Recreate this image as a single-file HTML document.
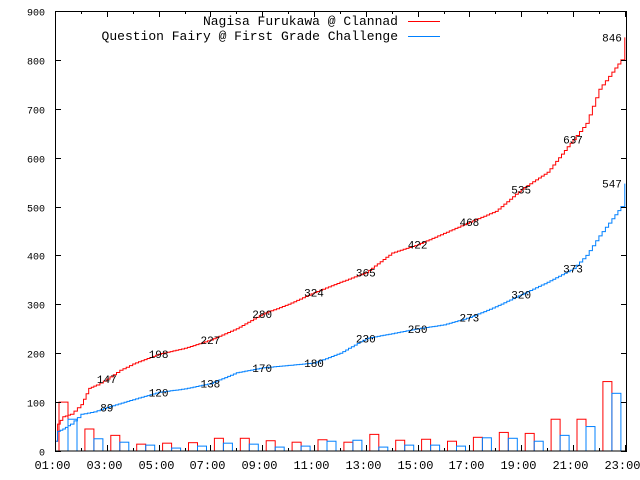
<!DOCTYPE html>
<html><head><meta charset="utf-8"><style>
html,body{margin:0;padding:0;background:#fff;}
svg{display:block;}
text{font-family:"Liberation Mono","DejaVu Sans Mono",monospace;fill:#000;}
</style></head><body>
<svg id="s" width="640" height="480" xmlns="http://www.w3.org/2000/svg"></svg>
<script>
const s=document.getElementById('s');const NS='http://www.w3.org/2000/svg';
function el(t,a,txt){const e=document.createElementNS(NS,t);for(const k in a)e.setAttribute(k,a[k]);if(txt!==undefined)e.textContent=txt;s.appendChild(e);return e;}
const X=h=>55+(h-1)*25.9, Y=v=>451-v*0.4889;
const R=[100,45,32,14,16,17,26,26,21,18,23,18,34,22,24,20,28,38,36,65,65,142];
const B=[65,25,18,12,6,10,16,14,8,10,20,22,8,12,12,10,27,26,20,32,50,118];
for(let i=0;i<22;i++){const x0=X(i+1);
 el('rect',{x:x0+4,y:Y(R[i]),width:9,height:R[i]*0.4889,fill:'none',stroke:'#ff0000','stroke-width':1});
 el('rect',{x:x0+13,y:Y(B[i]),width:9,height:B[i]*0.4889,fill:'none',stroke:'#0080ff','stroke-width':1});}
const rp=[[1,20],[1.1,55],[1.3,70],[1.6,75],[2,95],[2.3,128],[2.6,135],[3,147],[3.5,165],[4,178],[5,198],[6,210],[7,227],[8,250],[9,280],[10,300],[11,324],[12,345],[13,365],[14,405],[15,422],[16,445],[17,468],[18,490],[19,535],[20,570],[21,637],[21.5,670],[22,740],[22.5,775],[22.85,800],[23.0,846]];
const bp=[[1,20],[1.1,40],[1.3,45],[1.6,55],[2,75],[2.5,80],[3,89],[4,105],[5,120],[6,127],[7,138],[8,160],[9,170],[10,175],[11,180],[12,200],[13,230],[14,240],[15,250],[16,258],[17,273],[18,295],[19,320],[20,345],[21,373],[21.5,400],[22,440],[22.5,475],[22.85,500],[23.0,547]];
function stair(pts){let out=[];for(let i=0;i<pts.length-1;i++){const [h0,v0]=pts[i],[h1,v1]=pts[i+1];const x0=X(h0),x1=X(h1);const n=Math.max(1,Math.round((x1-x0)/3));for(let k=0;k<n;k++){const xa=x0+(x1-x0)*k/n,xb=x0+(x1-x0)*(k+1)/n;const va=v0+(v1-v0)*k/n,vb=v0+(v1-v0)*(k+1)/n;out.push([xa,Y(va)],[xb,Y(va)],[xb,Y(vb)]);}}return out.map(p=>p[0].toFixed(1)+','+p[1].toFixed(1)).join(' ');}
el('polyline',{points:stair(rp),fill:'none',stroke:'#ff0000','stroke-width':1});
el('polyline',{points:stair(bp),fill:'none',stroke:'#0080ff','stroke-width':1});
const lab=(h,v)=>el('text',{x:X(h),y:Y(v)+4,'text-anchor':'middle','font-size':11},String(v));
[[3,147],[5,198],[7,227],[9,280],[11,324],[13,365],[15,422],[17,468],[19,535],[21,637]].forEach(p=>lab(...p));
el('text',{x:612,y:Y(846)+4,'text-anchor':'middle','font-size':11},'846');
[[3,89],[5,120],[7,138],[9,170],[11,180],[13,230],[15,250],[17,273],[19,320],[21,373]].forEach(p=>lab(...p));
el('text',{x:612,y:Y(547)+4,'text-anchor':'middle','font-size':11},'547');
el('rect',{x:55.5,y:11.5,width:571,height:439.5,fill:'none',stroke:'#000','stroke-width':1});
for(let v=0;v<=900;v+=100){const y=Math.round(Y(v))+0.5;
 el('line',{x1:55,x2:61,y1:y,y2:y,stroke:'#000'});el('line',{x1:621,x2:627,y1:y,y2:y,stroke:'#000'});
 el('text',{x:45,y:y+4,'text-anchor':'end','font-size':10},String(v));}
for(let h=1;h<=23;h++){const x=Math.round(X(h))+0.5;const L=(h%2)?6:3;
 el('line',{x1:x,x2:x,y1:451,y2:451-L,stroke:'#000'});el('line',{x1:x,x2:x,y1:11,y2:11+L,stroke:'#000'});
 if(h%2)el('text',{x:x-3,y:469,'text-anchor':'middle','font-size':12},(h<10?'0':'')+h+':00');}
el('text',{x:398,y:25,'text-anchor':'end','font-size':13},'Nagisa Furukawa @ Clannad');
el('text',{x:398,y:40,'text-anchor':'end','font-size':13},'Question Fairy @ First Grade Challenge');
el('line',{x1:408,x2:440,y1:21.5,y2:21.5,stroke:'#ff0000'});
el('line',{x1:408,x2:440,y1:36.5,y2:36.5,stroke:'#0080ff'});
</script>
</body></html>
